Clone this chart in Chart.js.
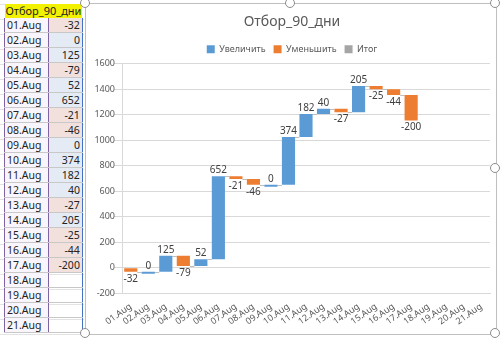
<!DOCTYPE html>
<html>
<head>
<meta charset="utf-8">
<script src="https://cdn.jsdelivr.net/npm/chart.js@4.4.0/dist/chart.umd.min.js"></script>
<style>
  body { margin: 0; width: 500px; height: 339px; background: #fff; position: relative; overflow: hidden; font-family: "Noto Sans", sans-serif; }
  #sheet { position: absolute; left: 0; top: 0; width: 84px; height: 339px;
    background-image: linear-gradient(#e3e3e3 1px, transparent 1px); background-size: 100% 15px; background-position: 0 4px; }
  table { position: absolute; left: 4px; top: 4px; border-collapse: collapse; font-size: 10.5px; color: #222; }
  td { height: 14px; padding: 0 2px; border-bottom: 1px solid #c8c8c8; white-space: nowrap; line-height: 14px; }
  td.lab { width: 36px; background: #f8f6fc; border-left: 1px solid #8064a2; border-right: 1px solid #8064a2; }
  td.val { width: 27px; text-align: right; border-right: 1px solid #4472c4; }
  td.pos { background: #e4ebf5; }
  td.neg { background: #f1e0dc; }
  td.head { background: #f2f200; border: none; text-align: left; padding: 0 1px; font-size: 11px; }
  #frame { position: absolute; left: 85px; top: 3px; width: 410px; height: 330px; border: 1px solid #bfbfbf; background: #fff; }
  .h { position: absolute; width: 8px; height: 8px; border: 1px solid #8c8c8c; border-radius: 50%; background: #fff; }
</style>
</head>
<body>
<div id="sheet"><table id="tbl"></table></div>
<div id="frame"><canvas id="chart" width="410" height="330"></canvas></div>
<div class="h" style="left:80px;top:-2px"></div>
<div class="h" style="left:285px;top:-2px"></div>
<div class="h" style="left:490px;top:-2px"></div>
<div class="h" style="left:490px;top:163px"></div>
<div class="h" style="left:80px;top:328px"></div>
<div class="h" style="left:490px;top:328px"></div>
<script>
var title = 'Отбор_90_дни';
var days = ['01.Aug','02.Aug','03.Aug','04.Aug','05.Aug','06.Aug','07.Aug','08.Aug','09.Aug','10.Aug','11.Aug',
            '12.Aug','13.Aug','14.Aug','15.Aug','16.Aug','17.Aug','18.Aug','19.Aug','20.Aug','21.Aug'];
var changes = [-32, 0, 125, -79, 52, 652, -21, -46, 0, 374, 182, 40, -27, 205, -25, -44, -200, null, null, null, null];
var seriesNames = ['Увеличить', 'Уменьшить', 'Итог'];
var seriesColors = ['#5b9bd5', '#ed7d31', '#a5a5a5'];
var yMin = -200, yMax = 1600, yStep = 200;

// spreadsheet column
var tbl = document.getElementById('tbl');
var html = '<tr><td class="head" colspan="2">' + title + '</td></tr>';
days.forEach(function(d, i) {
  var v = changes[i];
  var cls = v === null ? '' : (v < 0 ? 'neg' : 'pos');
  html += '<tr><td class="lab">' + d + '</td><td class="val ' + cls + '">' + (v === null ? '' : v) + '</td></tr>';
});
tbl.innerHTML = html;

// waterfall ranges
var ups = [], downs = [], levels = [];
var total = 0;
changes.forEach(function(v) {
  if (v === null) { ups.push(null); downs.push(null); levels.push(null); return; }
  var start = total;
  total += v;
  levels.push(total);
  if (v >= 0) { ups.push([start, total]); downs.push(null); }
  else { downs.push([total, start]); ups.push(null); }
});

var waterfallExtras = {
  id: 'waterfallExtras',
  beforeDatasetsDraw: function(chart) {
    var ctx = chart.ctx, y = chart.scales.y;
    var m0 = chart.getDatasetMeta(0).data;
    ctx.save();
    ctx.strokeStyle = '#bfbfbf';
    ctx.lineWidth = 1;
    for (var i = 0; i < levels.length - 1; i++) {
      if (levels[i] === null || levels[i + 1] === null) continue;
      var a = m0[i], b = m0[i + 1];
      var py = Math.round(y.getPixelForValue(levels[i])) + 0.5;
      ctx.beginPath();
      ctx.moveTo(a.x + a.width / 2, py);
      ctx.lineTo(b.x - b.width / 2, py);
      ctx.stroke();
    }
    ctx.restore();
  },
  afterDraw: function(chart) {
    var ctx = chart.ctx, y = chart.scales.y;
    ctx.save();
    // y tick labels
    ctx.font = '9px "Noto Sans", sans-serif';
    ctx.fillStyle = '#595959';
    ctx.textAlign = 'right';
    ctx.textBaseline = 'middle';
    for (var t = yMin; t <= yMax; t += yStep) {
      ctx.fillText(String(t), y.right - 7, y.getPixelForValue(t));
    }
    // value labels on the bars
    ctx.font = '10px "Noto Sans", sans-serif';
    ctx.fillStyle = '#404040';
    ctx.textAlign = 'center';
    var m0 = chart.getDatasetMeta(0).data, m1 = chart.getDatasetMeta(1).data;
    changes.forEach(function(v, i) {
      if (v === null) return;
      if (v >= 0) {
        var e = m0[i];
        ctx.textBaseline = 'bottom';
        ctx.fillText(String(v), e.x, Math.min(e.y, e.base) - 1);
      } else {
        var e2 = m1[i];
        ctx.textBaseline = 'top';
        ctx.fillText(String(v), e2.x, Math.max(e2.y, e2.base) + 2);
      }
    });
    ctx.restore();
  }
};

Chart.defaults.font.family = '"Noto Sans", sans-serif';
Chart.defaults.color = '#595959';

new Chart(document.getElementById('chart'), {
  type: 'bar',
  data: {
    labels: days,
    datasets: [
      { label: seriesNames[0], data: ups, backgroundColor: seriesColors[0], grouped: false, minBarLength: 2 },
      { label: seriesNames[1], data: downs, backgroundColor: seriesColors[1], grouped: false },
      { label: seriesNames[2], data: [], backgroundColor: seriesColors[2], grouped: false }
    ]
  },
  options: {
    responsive: false,
    animation: false,
    layout: { padding: { left: 8, right: 6, top: 3, bottom: 7 } },
    datasets: { bar: { barPercentage: 0.75, categoryPercentage: 1 } },
    plugins: {
      title: { display: true, text: title, font: { size: 14, weight: 'normal' }, padding: { top: 7, bottom: 6 } },
      legend: { labels: { boxWidth: 8, boxHeight: 8, font: { size: 9 }, padding: 8 } },
      tooltip: { enabled: false }
    },
    scales: {
      x: { grid: { display: false }, border: { color: '#d9d9d9' },
           ticks: { minRotation: 35, maxRotation: 35, font: { size: 9 }, padding: 0, autoSkip: false } },
      y: { min: yMin, max: yMax, grid: { color: '#d9d9d9' }, border: { color: '#d9d9d9' },
           afterFit: function(s) { s.width = 28; },
           ticks: { stepSize: yStep, display: false } }
    }
  },
  plugins: [waterfallExtras]
});
</script>
</body>
</html>
